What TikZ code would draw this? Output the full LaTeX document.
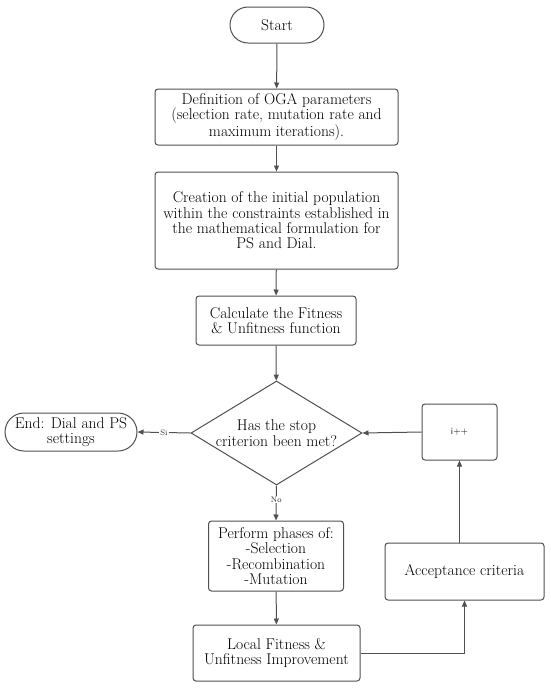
\documentclass[tikz,border=0pt]{standalone}
\usetikzlibrary{arrows.meta,shapes.geometric}
\definecolor{ln}{HTML}{505050}
\begin{document}
\begin{tikzpicture}[x=1pt,y=-1pt,
  box/.style={draw=ln, line width=1pt, rounded corners=3pt, align=center, inner sep=0pt,
     font=\fontsize{15.6}{15.3}\selectfont, text=black},
  term/.style={box, rounded corners=18pt},
  arr/.style={draw=ln, line width=1pt, -{Triangle[length=6pt,width=5pt]}},
  lbl/.style={font=\fontsize{8}{9}\selectfont, fill=white, inner sep=1pt, text=black!85}]
\useasboundingbox (0,0) rectangle (550,688);
\node[term, minimum width=94, minimum height=36] (start) at (277,25) {Start};
\node[box, minimum width=243, minimum height=56] (def) at (276.5,117) {Definition of OGA parameters\\(selection rate, mutation rate and\\maximum iterations).};
\node[box, minimum width=243, minimum height=97] (cre) at (276.5,220.5) {Creation of the initial population\\within the constraints established in\\the mathematical formulation for\\PS and Dial.};
\node[box, minimum width=160, minimum height=49] (calc) at (276,320.5) {Calculate the Fitness\\\& Unfitness function};
\node[diamond, draw=ln, line width=1pt, minimum width=171, minimum height=104, inner sep=0pt] (dec) at (276.5,433) {};
\node[align=center, font=\fontsize{15.6}{15.3}\selectfont, text=black] (dect) at (dec.center) {Has the stop\\criterion been met?};
\node[term, rounded corners=19pt, minimum width=132, minimum height=38] (end) at (71,432) {End: Dial and PS\\settings};
\node[box, minimum width=75, minimum height=56, font=\fontsize{9.5}{10}\selectfont\sffamily] (ipp) at (459.5,432) {i++};
\node[box, minimum width=135, minimum height=70] (perf) at (276,556) {Perform phases of:\\-Selection\\-Recombination\\-Mutation};
\node[box, minimum width=167, minimum height=56] (loc) at (276.5,653) {Local Fitness \&\\Unfitness Improvement};
\node[box, minimum width=159, minimum height=57] (acc) at (464.5,571.5) {Acceptance criteria};
\draw[arr] (start) -- (def);
\draw[arr] (def) -- (cre);
\draw[arr] (cre) -- (calc);
\draw[arr] (calc) -- (dec);
\draw[arr] (dec.west) -- node[lbl, pos=0.5] {Si} (end.east);
\draw[arr] (dec.south) -- node[lbl, pos=0.4] {No} (perf.north);
\draw[arr] (perf) -- (loc);
\draw[arr] (loc.east) -| (acc.south);
\draw[arr] (acc.north -| ipp.south) -- (ipp.south);
\draw[arr] (ipp.west) -- (dec.east);
\end{tikzpicture}
\end{document}
